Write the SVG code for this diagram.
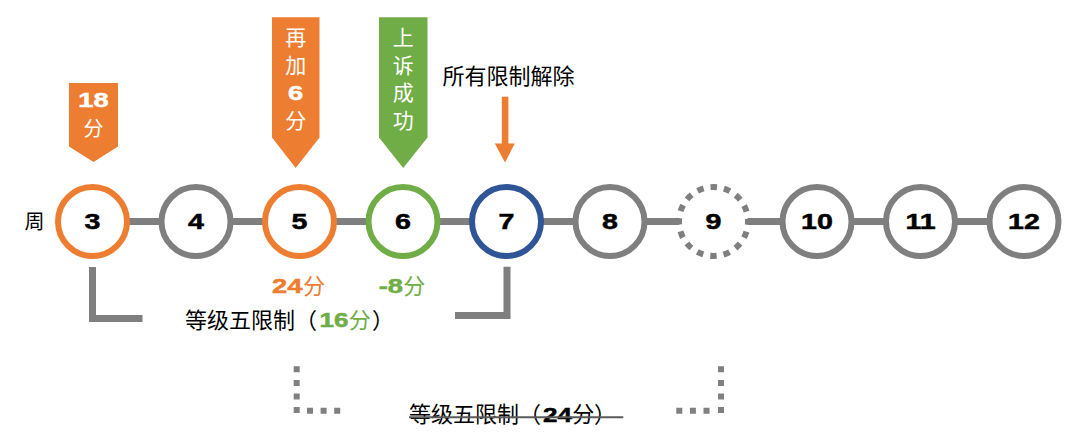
<svg xmlns="http://www.w3.org/2000/svg" width="1080" height="445" viewBox="0 0 1080 445">
<style>
.bg{fill:#ffffff}
.c{fill:#ffffff;stroke-width:6}
.o{stroke:#ED7D31}.g{stroke:#7F7F7F}.gr{stroke:#70AD47}.b{stroke:#2F5597}
.dash{stroke-dasharray:6.5 7.048;stroke-dashoffset:3.25}
.num{font-family:"Liberation Sans",Arial,sans-serif;font-weight:bold;text-anchor:middle;stroke-width:0.5}
.cjk{font-family:"Liberation Sans","Noto Sans CJK SC",sans-serif}
.mid{text-anchor:middle}
.link{stroke:#7F7F7F;stroke-width:7;fill:none}
.brk{stroke:#7F7F7F;stroke-width:7;fill:none}
.dot{stroke:#808080;stroke-width:6;fill:none;stroke-dasharray:6 7.6}
</style>
<rect class="bg" x="0" y="0" width="1080" height="445"/>
<g id="connectors">
<line class="link" x1="127" y1="221.5" x2="161.5" y2="221.5"/>
<line class="link" x1="230.5" y1="221.5" x2="265" y2="221.5"/>
<line class="link" x1="334" y1="221.5" x2="368.5" y2="221.5"/>
<line class="link" x1="437.5" y1="221.5" x2="472" y2="221.5"/>
<line class="link" x1="541" y1="221.5" x2="575.5" y2="221.5"/>
<line class="link" x1="644.5" y1="221.5" x2="680" y2="221.5"/>
<line class="link" x1="747" y1="221.5" x2="782.5" y2="221.5"/>
<line class="link" x1="851.5" y1="221.5" x2="886" y2="221.5"/>
<line class="link" x1="955" y1="221.5" x2="989.5" y2="221.5"/>
</g>
<g id="label-week"><text class="cjk mid" x="34.5" y="229" font-size="20">周</text></g>
<g id="w3"><circle class="c o" cx="92.5" cy="221.5" r="34.5"/><text class="num" fill="#000" stroke="#000" font-size="22" transform="translate(92.5 229.3) scale(1.3 1)">3</text></g>
<g id="w4"><circle class="c g" cx="196" cy="221.5" r="34.5"/><text class="num" fill="#000" stroke="#000" font-size="22" transform="translate(196 229.3) scale(1.3 1)">4</text></g>
<g id="w5"><circle class="c o" cx="299.5" cy="221.5" r="34.5"/><text class="num" fill="#000" stroke="#000" font-size="22" transform="translate(299.5 229.3) scale(1.3 1)">5</text></g>
<g id="w6"><circle class="c gr" cx="403" cy="221.5" r="34.5"/><text class="num" fill="#000" stroke="#000" font-size="22" transform="translate(403 229.3) scale(1.3 1)">6</text></g>
<g id="w7"><circle class="c b" cx="506.5" cy="221.5" r="34.5"/><text class="num" fill="#000" stroke="#000" font-size="22" transform="translate(506.5 229.3) scale(1.3 1)">7</text></g>
<g id="w8"><circle class="c g" cx="610" cy="221.5" r="34.5"/><text class="num" fill="#000" stroke="#000" font-size="22" transform="translate(610 229.3) scale(1.3 1)">8</text></g>
<g id="w9"><circle class="c g dash" cx="713.5" cy="221.5" r="34.5"/><text class="num" fill="#000" stroke="#000" font-size="22" transform="translate(713.5 229.3) scale(1.3 1)">9</text></g>
<g id="w10"><circle class="c g" cx="817" cy="221.5" r="34.5"/><text class="num" fill="#000" stroke="#000" font-size="22" transform="translate(817 229.3) scale(1.3 1)">10</text></g>
<g id="w11"><circle class="c g" cx="920.5" cy="221.5" r="34.5"/><text class="num" fill="#000" stroke="#000" font-size="22" transform="translate(920.5 229.3) scale(1.3 1)">11</text></g>
<g id="w12"><circle class="c g" cx="1024" cy="221.5" r="34.5"/><text class="num" fill="#000" stroke="#000" font-size="22" transform="translate(1024 229.3) scale(1.3 1)">12</text></g>
<g id="callout-18">
<polygon points="69,83 118,83 118,146.5 93.5,162 69,146.5" fill="#ED7D31"/>
<text class="num" fill="#ffffff" stroke="#ffffff" font-size="21" transform="translate(93.5 106.5) scale(1.3 1)">18</text>
<text class="cjk mid" fill="#ffffff" font-size="20" x="93.5" y="136">分</text>
</g>
<g id="callout-add6">
<polygon points="272,17.3 319.5,17.3 319.5,137.5 295.7,168 272,137.5" fill="#ED7D31"/>
<text class="cjk mid" fill="#ffffff" font-size="21" x="295.7" y="44.7">再</text>
<text class="cjk mid" fill="#ffffff" font-size="21" x="295.7" y="72.5">加</text>
<text class="num" fill="#ffffff" stroke="#ffffff" font-size="21" transform="translate(295.7 99.7) scale(1.3 1)">6</text>
<text class="cjk mid" fill="#ffffff" font-size="21" x="295.7" y="127.5">分</text>
</g>
<g id="callout-appeal">
<polygon points="379,17.3 427.5,17.3 427.5,137.5 403.2,168 379,137.5" fill="#70AD47"/>
<text class="cjk mid" fill="#ffffff" font-size="21" x="403.2" y="44.7">上</text>
<text class="cjk mid" fill="#ffffff" font-size="21" x="403.2" y="72.5">诉</text>
<text class="cjk mid" fill="#ffffff" font-size="21" x="403.2" y="100.2">成</text>
<text class="cjk mid" fill="#ffffff" font-size="21" x="403.2" y="127.5">功</text>
</g>
<g id="lifted">
<text class="cjk" fill="#000000" font-size="22" x="442.5" y="84.4">所有限制解除</text>
<rect x="501.8" y="96.7" width="6.6" height="47.5" fill="#ED7D31"/>
<polygon points="494.8,143.5 514.8,143.5 505,162.5" fill="#ED7D31"/>
</g>
<g id="score-24">
<text class="num" fill="#ED7D31" stroke="#ED7D31" font-size="21" transform="translate(287.2 293.2) scale(1.3 1)">24</text>
<text class="cjk" fill="#ED7D31" font-size="22" x="303" y="294">分</text>
</g>
<g id="score-minus8">
<text class="num" fill="#70AD47" stroke="#70AD47" font-size="21" transform="translate(390.8 293.2) scale(1.3 1)">-8</text>
<text class="cjk" fill="#70AD47" font-size="22" x="403.2" y="294">分</text>
</g>
<g id="level5-16">
<polyline class="brk" points="92.5,267 92.5,318.5 142.5,318.5"/>
<polyline class="brk" points="455,315.5 507,315.5 507,266.7"/>
<text class="cjk" fill="#000000" font-size="22" x="185" y="328.4">等级五限制（</text>
<text class="num" fill="#70AD47" stroke="#70AD47" font-size="20" transform="translate(334 327.2) scale(1.3 1)">16</text>
<text class="cjk" fill="#70AD47" font-size="22" x="348.8" y="328.4">分</text>
<text class="cjk" fill="#000000" font-size="22" x="372" y="328.4">）</text>
</g>
<g id="level5-24">
<path class="dot" d="M296.7,366.3 V413.7"/>
<path class="dot" d="M307,410.7 H341"/>
<path class="dot" d="M721,366.3 V413.7"/>
<path class="dot" d="M676.3,410.7 H710"/>
<text class="cjk" fill="#000000" font-size="22" x="409" y="422.4">等级五限制（</text>
<text class="num" fill="#000000" stroke="#000" font-size="20" transform="translate(557.5 421.5) scale(1.3 1)">24</text>
<text class="cjk" fill="#000000" font-size="22" x="572.2" y="422.4">分</text>
<text class="cjk" fill="#000000" font-size="22" x="594" y="422.4">）</text>
<line x1="409" y1="417.3" x2="623.3" y2="417.3" stroke="#5a5a5a" stroke-width="2"/>
</g>
</svg>
